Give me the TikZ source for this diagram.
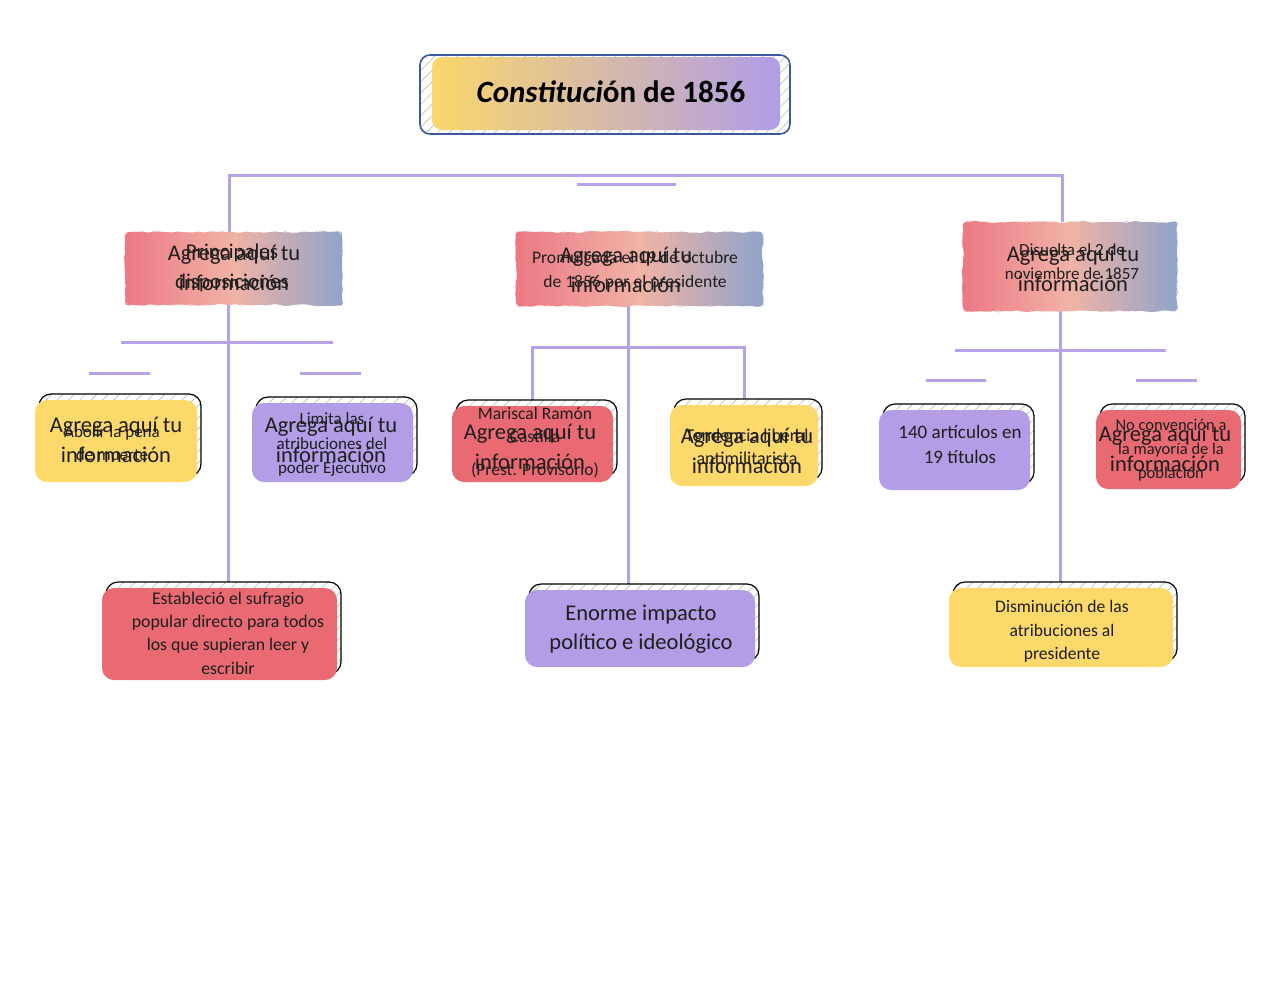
\documentclass[tikz,border=0pt]{standalone}
\usepackage{fontspec}
\setmainfont{Carlito}
\usetikzlibrary{patterns.meta,decorations.pathmorphing}
\definecolor{lav}{HTML}{B7A2E8}
\definecolor{cyel}{HTML}{FDD86A}
\definecolor{cpur}{HTML}{B39DE6}
\definecolor{cred}{HTML}{E96A73}
\definecolor{hred}{HTML}{EC7884}
\definecolor{hpeach}{HTML}{F1B3A6}
\definecolor{hblue}{HTML}{8FA4CA}
\definecolor{tblue}{HTML}{3B5A9C}
\definecolor{tyel}{HTML}{FAD76B}
\definecolor{tpur}{HTML}{B19CE8}
\definecolor{ink}{HTML}{1E1E1E}
\pgfdeclarelayer{bg}
\pgfsetlayers{bg,main}
\newcommand\fph{\fontsize{22.5}{29.5}\selectfont}
\newcommand\fsz[2]{\fontsize{#1}{#2}\selectfont}
\newcommand\cbox[6]{%
  \draw[shadowbox] ({#2+4},{#3-6}) rectangle ({#4+4},{#5-6});
  \node[cboxst, fill=#6, minimum width={(#4)-(#2)}, minimum height={(#5)-(#3)}] (#1) at ({(#2+#4)/2},{(#3+#5)/2}) {};
}
\newcommand\hdrbox[5]{%
  \shade[hdr] (#2,#3) rectangle (#4,#5);
  \node[inner sep=0pt, minimum width={(#4)-(#2)}, minimum height={(#5)-(#3)}] (#1) at ({(#2+#4)/2},{(#3+#5)/2}) {};
}
\begin{document}
\begin{tikzpicture}[x=1pt,y=-1pt,
  conn/.style={draw=lav, line width=3pt},
  shadowbox/.style={draw=black, line width=1.2pt, rounded corners=12pt, preaction={fill=white}, pattern={Lines[angle=45,distance=8pt,line width=0.5pt]}, pattern color=gray!65},
  cboxst/.style={rounded corners=12pt, inner sep=0pt, draw=none},
  hdr/.style={left color=hred, right color=hblue, middle color=hpeach, rounded corners=4pt, decorate, decoration={random steps, segment length=4pt, amplitude=1.2pt}},
  txt/.style={align=center, inner sep=0pt, text=ink},
  ph/.style={txt, font=\fph},
]
\useasboundingbox (0,0) rectangle (1280,989);

% title
\draw[draw=tblue, line width=1.6pt, rounded corners=10pt, preaction={fill=white}, pattern={Lines[angle=45,distance=8pt,line width=0.5pt]}, pattern color=gray!60] (420,55) rectangle (790,134);
\shade[left color=tyel, right color=tpur, rounded corners=10pt] (432,57) rectangle (780,130);
\node[txt, text=black, font=\fsz{31}{36}] (title) at (611,92) {{\bfseries\itshape Constituci}\textbf{ón de 1856}};

% headers
\hdrbox{h1}{125}{232}{342}{305}
\hdrbox{h2}{516}{232}{763}{306}
\hdrbox{h3}{963}{222}{1177}{311}
\node[ph] (h1p) at (234,268) {Agrega aquí tu\\información};
\node[txt, font=\fsz{21}{29.5}] (h1t) at (232,268) {Principales\\disposiciones};
\node[ph] (h2p) at (626,270) {Agrega aquí tu\\información};
\node[txt, font=\fsz{17.6}{24}] (h2t) at (635,271) {Promulgada el 19 de octubre\\de 1856 por el presidente};
\node[ph] (h3p) at (1073,269) {Agrega aquí tu\\información};
\node[txt, font=\fsz{17}{24}] (h3t) at (1072,262) {Disuelta el 2 de\\noviembre de 1857};

% level 2 boxes
\cbox{b1}{35}{400}{197}{482}{cyel}
\cbox{b2}{252}{403}{413}{482}{cpur}
\cbox{b3}{452}{406}{613}{482}{cred}
\cbox{b4}{670}{405}{818}{486}{cyel}
\cbox{b5}{879}{410}{1030}{490}{cpur}
\cbox{b6}{1096}{410}{1241}{489}{cred}
% level 3 boxes
\cbox{b7}{102}{588}{337}{680}{cred}
\cbox{b8}{525}{590}{755}{667}{cpur}
\cbox{b9}{949}{588}{1173}{667}{cyel}

% texts level 2
\node[ph] (b1p) at (116,440) {Agrega aquí tu\\información};
\node[txt, font=\fsz{17}{23}] (b1t) at (112,443) {Abolir la pena\\de muerte};
\node[ph] (b2p) at (331,440) {Agrega aquí tu\\información};
\node[txt, font=\fsz{17}{24.5}] (b2t) at (332,445) {Limita las\\atribuciones del\\poder Ejecutivo};
\node[ph] (b3p) at (530,447) {Agrega aquí tu\\información};
\node[txt, font=\fsz{17.5}{22.5}] (b3t) at (535,443) {Mariscal Ramón\\Castilla\\[11pt](Prest. Provisorio)};
\node[ph] (b4p) at (747,451) {Agrega aquí tu\\información};
\node[txt, font=\fsz{18}{23}] (b4t) at (747,447) {Tendencia liberal\\antimilitarista};
\node[txt, font=\fsz{19}{25}] (b5t) at (960,444) {140 artículos en\\19 títulos};
\node[ph] (b6p) at (1165,449) {Agrega aquí tu\\información};
\node[txt, font=\fsz{16.5}{24}] (b6t) at (1171,450) {No convención a\\la mayoría de la\\población};

% texts level 3
\node[txt, font=\fsz{17.8}{23.3}] (b7t) at (228,633) {Estableció el sufragio\\popular directo para todos\\los que supieran leer y\\escribir};
\node[ph] (b8t) at (641,629) {Enorme impacto\\político e ideológico};
\node[txt, font=\fsz{17.6}{23.5}] (b9t) at (1062,631.5) {Disminución de las\\atribuciones al\\presidente};

% connectors
\coordinate (tl) at (229,175);
\coordinate (tr) at (1062,175);
\coordinate (sb1) at (577,184);
\coordinate (sb2) at (676,184);
\coordinate (lx) at (228,342);
\coordinate (lb1) at (121,342);
\coordinate (lb2) at (333,342);
\coordinate (ls1) at (89,373);
\coordinate (ls2) at (150,373);
\coordinate (ls3) at (300,373);
\coordinate (ls4) at (361,373);
\coordinate (mx) at (628,347);
\coordinate (rx) at (1060,350);
\coordinate (rb1) at (955,350);
\coordinate (rb2) at (1166,350);
\coordinate (rs1) at (926,380);
\coordinate (rs2) at (986,380);
\coordinate (rs3) at (1136,380);
\coordinate (rs4) at (1197,380);
\begin{pgfonlayer}{bg}
\draw[conn] (h1.north -| tl) -- (tl) -- (tr) -- (h3.north -| tr);
\draw[conn] (sb1) -- (sb2);
\draw[conn] (h1.south -| lx) -- (b7.north -| lx);
\draw[conn] (lb1) -- (lb2);
\draw[conn] (ls1) -- (ls2);
\draw[conn] (ls3) -- (ls4);
\draw[conn] (h2.south -| mx) -- (b8.north -| mx);
\draw[conn] (b3.north) |- (mx) -| (b4.north);
\draw[conn] (h3.south -| rx) -- (b9.north -| rx);
\draw[conn] (rb1) -- (rb2);
\draw[conn] (rs1) -- (rs2);
\draw[conn] (rs3) -- (rs4);
\end{pgfonlayer}
\end{tikzpicture}
\end{document}
